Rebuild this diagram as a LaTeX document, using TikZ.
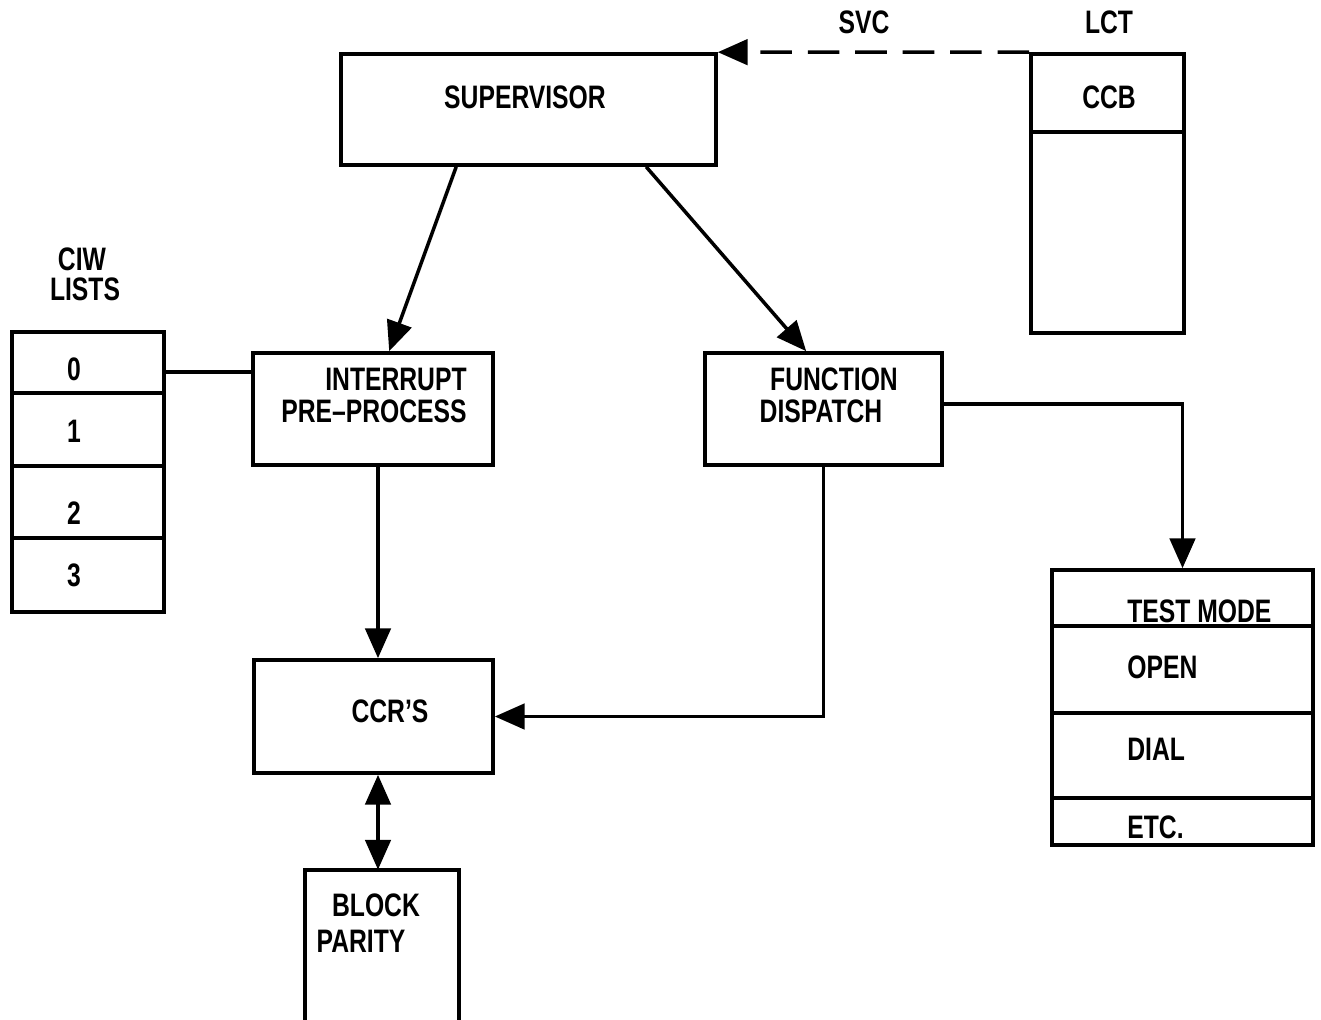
\documentclass[tikz,border=0pt]{standalone}
\usepackage{fontspec}
\setmainfont{Liberation Sans}[FakeStretch=0.76]
\usetikzlibrary{arrows.meta,calc}
\begin{document}
\begin{tikzpicture}[x=0.02cm,y=-0.02cm,
  box/.style={draw, rectangle, inner sep=0pt, line width=2.1pt},
  lbl/.style={inner sep=0pt, font=\bfseries\fontsize{18.5pt}{21pt}\selectfont},
  conn/.style={line width=2pt},
  arr/.style={conn, -{Triangle[length=17pt,width=14.5pt]}},
  ]
\useasboundingbox (0,0) rectangle (1321,1020);

% boxes
\node[box, minimum width=7.5cm, minimum height=2.22cm] (sup) at (528.5,109.5) {};
\node[box, minimum width=3.06cm, minimum height=5.58cm] (lct) at (1107.5,193.5) {};
\draw[line width=2.1pt] ($(lct.north west)+(0,80)$) -- ($(lct.north east)+(0,80)$);

\node[box, minimum width=3.04cm, minimum height=5.6cm] (ciw) at (88,472) {};
\draw[line width=2.1pt] ($(ciw.north west)+(0,63)$) -- ($(ciw.north east)+(0,63)$);
\draw[line width=2.1pt] ($(ciw.north west)+(0,136)$) -- ($(ciw.north east)+(0,136)$);
\draw[line width=2.1pt] ($(ciw.north west)+(0,208)$) -- ($(ciw.north east)+(0,208)$);

\node[box, minimum width=4.8cm, minimum height=2.24cm] (intr) at (373,409) {};
\node[box, minimum width=4.74cm, minimum height=2.24cm] (fd) at (823.5,409) {};
\node[box, minimum width=5.22cm, minimum height=5.5cm] (tm) at (1182.5,707.5) {};
\draw[line width=2.1pt] ($(tm.north west)+(0,58)$) -- ($(tm.north east)+(0,58)$);
\draw[line width=2.1pt] ($(tm.north west)+(0,145)$) -- ($(tm.north east)+(0,145)$);
\draw[line width=2.1pt] ($(tm.north west)+(0,230)$) -- ($(tm.north east)+(0,230)$);

\node[box, minimum width=4.78cm, minimum height=2.26cm] (ccr) at (373.5,716.5) {};
\node[inner sep=0pt, minimum width=3.08cm, minimum height=3cm] (bp) at (382,945) {};
\draw[line width=2.1pt] (bp.south west) -- (bp.north west) -- (bp.north east) -- (bp.south east);

% labels
\node[lbl] (tsup) at (525,97) {SUPERVISOR};
\node[lbl] (tsvc) at (864,22) {SVC};
\node[lbl] (tlct) at (1109,22) {LCT};
\node[lbl] (tccb) at (1109,97) {CCB};
\node[lbl] (tciw) at (82,259) {CIW};
\node[lbl] (tlists) at (85,289) {LISTS};
\node[lbl] (t0) at (74,369) {0};
\node[lbl] (t1) at (74,431) {1};
\node[lbl] (t2) at (74,513) {2};
\node[lbl] (t3) at (74,575) {3};
\node[lbl, anchor=east] (tint1) at (467,379) {INTERRUPT};
\node[lbl, anchor=east] (tint2) at (467,411) {PRE--PROCESS};
\node[lbl] (tfd1) at (834,379) {FUNCTION};
\node[lbl] (tfd2) at (821,411) {DISPATCH};
\node[lbl, anchor=west] (ttm) at (1127,611) {TEST MODE};
\node[lbl, anchor=west] (topen) at (1127,667) {OPEN};
\node[lbl, anchor=west] (tdial) at (1127,749) {DIAL};
\node[lbl, anchor=west] (tetc) at (1127,827) {ETC.};
\node[lbl] (tccr) at (390,711) {CCR'S};
\node[lbl] (tblock) at (376,905) {BLOCK};
\node[lbl] (tpar) at (361,941) {PARITY};

% connectors
\coordinate (y372) at (0,372);
\coordinate (y404) at (0,404);
\coordinate (x378) at (378,0);
\draw[conn] (ciw.east |- y372) -- (intr.west |- y372);
\draw[arr] ($(sup.south west)+(117,0)$) -- ($(intr.north west)+(138,0)$);
\draw[arr] ($(sup.south west)+(307,0)$) -- ($(fd.north west)+(103,0)$);
\draw[arr, dash pattern=on 18pt off 9pt] (lct.north west) -- (sup.north east);
\draw[arr] (fd.east |- y404) -| (tm.north);
\draw[arr] (intr.south -| x378) -- (ccr.north -| x378);
\draw[arr] (fd.south) |- (ccr.east);
\draw[conn, {Triangle[length=17pt,width=14.5pt]}-{Triangle[length=17pt,width=14.5pt]}] (ccr.south -| x378) -- (bp.north -| x378);
\end{tikzpicture}
\end{document}
